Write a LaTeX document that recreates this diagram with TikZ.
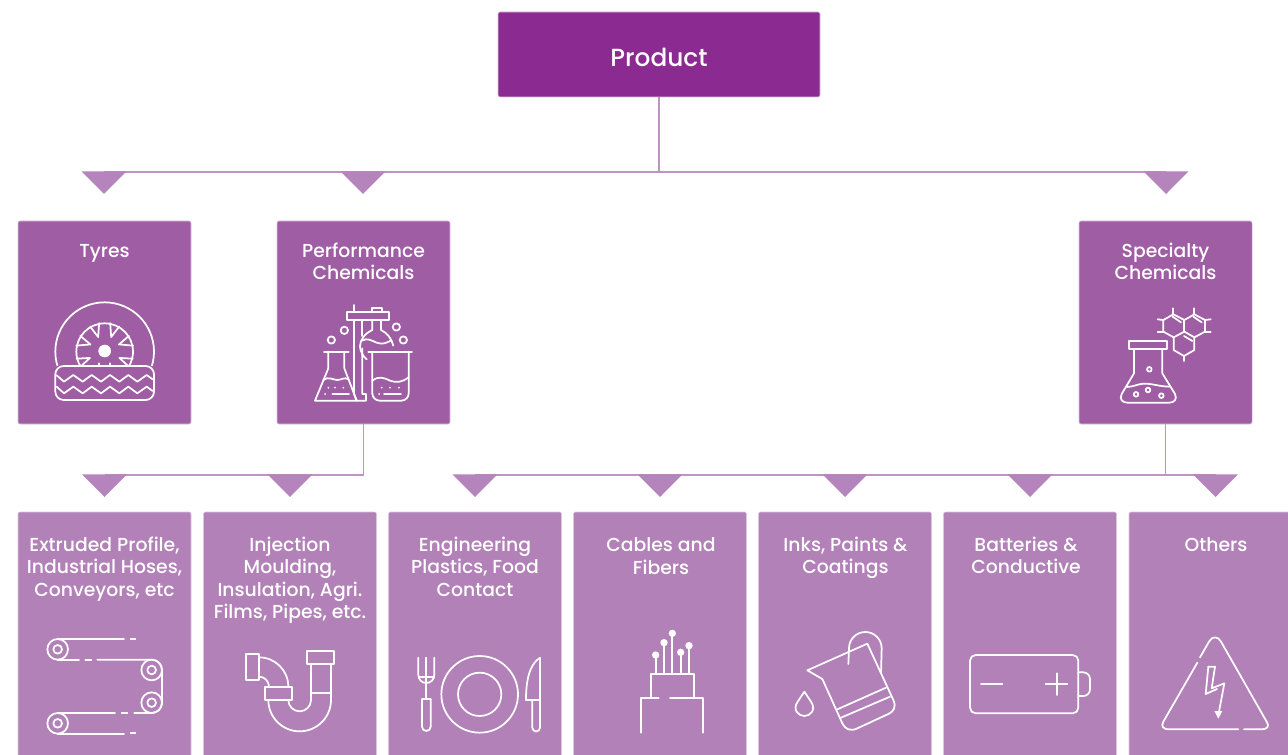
\documentclass[tikz,border=0pt]{standalone}
\usepackage{fontspec}
\setmainfont{Poppins Medium}
\definecolor{cTop}{HTML}{8B2A90}
\definecolor{cMid}{HTML}{9F5DA4}
\definecolor{cLow}{HTML}{B281B8}
\definecolor{cLine}{HTML}{BF94C4}
\definecolor{cTri}{HTML}{B684BC}
\definecolor{cEdge}{HTML}{DCC6DF}
\tikzset{
  boxbase/.style={rectangle,rounded corners=1.5pt,inner sep=0pt,outer sep=0pt,draw=cEdge,line width=0.4pt},
  topbox/.style={boxbase,fill=cTop,minimum width=241.5pt,minimum height=63.75pt,text=white,font=\fontsize{18.6}{22}\selectfont},
  midbox/.style={boxbase,fill=cMid,minimum width=129.75pt,minimum height=152.25pt},
  lowbox/.style={boxbase,fill=cLow,minimum width=129.75pt,minimum height=198pt},
  lbl/.style={text=white,align=center,anchor=north,inner sep=0pt,font=\fontsize{14.1}{16.9}\selectfont},
  conn/.style={draw=cLine,line width=0.9pt},
  tri/.style={fill=cTri,draw=none},
  ico/.style={draw=white,line width=1.3pt,line cap=round,line join=round,fill=none},
  dotf/.style={fill=white,draw=none},
}
\newcommand{\downtri}[1]{\fill[tri] ([xshift=-16.9pt,yshift=0.5pt]#1) -- ([xshift=16.9pt,yshift=0.5pt]#1) -- ([yshift=-16.5pt]#1) -- cycle;}
\begin{document}
\begin{tikzpicture}[x=0.75pt,y=-0.75pt]
\path[use as bounding box] (0,0) rectangle (1288,755);
\clip (0,0) rectangle (1288,755);
\fill[white] (0,0) rectangle (1288,755);

% boxes
\node[topbox] (product) at (659,54.5) {\raisebox{-9.1pt}[0pt][0pt]{Product}};
\node[midbox] (tyres) at (104.5,322.5) {};
\node[midbox] (perf) at (363.5,322.5) {};
\node[midbox] (spec) at (1165.5,322.5) {};
\node[lowbox] (b1) at (104.5,644) {};
\node[lowbox] (b2) at (290,644) {};
\node[lowbox] (b3) at (475,644) {};
\node[lowbox] (b4) at (660,644) {};
\node[lowbox] (b5) at (845,644) {};
\node[lowbox] (b6) at (1030,644) {};
\node[lowbox] (b7) at (1215.5,644) {};

% labels
\node[lbl] (ltyres) at (104.5,244.5) {Tyres};
\node[lbl] (lperf) at (363.5,242.5) {Performance\\Chemicals};
\node[lbl] (lspec) at (1165.5,242.5) {Specialty\\Chemicals};
\node[lbl] (l1) at (104.5,536.5) {Extruded Profile,\\Industrial Hoses,\\Conveyors, etc};
\node[lbl] (l2) at (290,536.5) {Injection\\Moulding,\\Insulation, Agri.\\Films, Pipes, etc.};
\node[lbl] (l3) at (475,536.5) {Engineering\\Plastics, Food\\Contact};
\node[lbl] (l4) at (661,537.5) {Cables and\\Fibers};
\node[lbl] (l5) at (845.5,536.5) {Inks, Paints \&\\Coatings};
\node[lbl] (l6) at (1026,536.5) {Batteries \&\\Conductive};
\node[lbl] (l7) at (1216,537.5) {Others};

% connector coordinates
\coordinate (h1) at (659,172);
\coordinate (t1) at (104,172);
\coordinate (t2) at (363,172);
\coordinate (t3) at (1166,172);
\coordinate (jl) at (363.5,475);
\coordinate (jr) at (1165.5,475);
\coordinate (u1) at (104.5,475);
\coordinate (u2) at (290,475);
\coordinate (u3) at (475,475);
\coordinate (u4) at (660,475);
\coordinate (u5) at (845,475);
\coordinate (u6) at (1030,475);
\coordinate (u7) at (1215.5,475);

\draw[conn] (product.south) -- (h1);
\draw[conn] (t1) -- (t3);
\draw[conn] (perf.south) -- (jl);
\draw[conn] (u1) -- (jl);
\draw[conn] (spec.south) -- (jr);
\draw[conn] (u3) -- (u7);
\downtri{t1}\downtri{t2}\downtri{t3}
\downtri{u1}\downtri{u2}\downtri{u3}\downtri{u4}\downtri{u5}\downtri{u6}\downtri{u7}

% ---------- icons: tyre and flasks (zoom coordinates, 1/3 px)
\begin{scope}[shift={(0,280)},x=0.25pt,y=-0.25pt]
  \begin{scope}
    \clip (100,0) rectangle (520,258);
    \draw[ico] (314,215) circle (148);
    \draw[ico] (314,215) circle (85);
    \foreach \a/\e/\f in {114/101/120,153/147/168,203/194/212}{
      \draw[ico] ({314+29*3*cos(\e)},{215-29*3*sin(\e)}) -- ({314+48*cos(\a)},{215-48*sin(\a)}) -- ({314+29*3*cos(\f)},{215-29*3*sin(\f)});
      \draw[ico] ({314-29*3*cos(\e)},{215-29*3*sin(\e)}) -- ({314-48*cos(\a)},{215-48*sin(\a)}) -- ({314-29*3*cos(\f)},{215-29*3*sin(\f)});
    }
    \draw[ico] (296,250) -- (296,258);
    \draw[ico] (331,250) -- (331,258);
  \end{scope}
  \fill[dotf] (314,213) circle (19);
  \draw[ico] (166,290) -- (166,335) arc[start angle=180,end angle=90,radius=25] -- (437,360) arc[start angle=90,end angle=0,radius=25] -- (462,283) arc[start angle=0,end angle=-90,radius=25] -- (191,258) arc[start angle=-90,end angle=-180,radius=25] -- cycle;
  \draw[ico] (170,286) -- (192,305) -- (220,285) -- (248,305) -- (275,285) -- (303,305) -- (330,285) -- (358,305) -- (385,285) -- (412,305) -- (440,285) -- (458,298);
  \draw[ico] (170,320) -- (192,340) -- (220,320) -- (248,340) -- (275,320) -- (303,340) -- (330,320) -- (358,340) -- (385,320) -- (412,340) -- (440,320) -- (458,333);

  % performance chemicals
  \draw[ico] (1042,97) rectangle (1167,119);
  \draw[ico] (1062,75) -- (1062,97);
  \draw[ico] (1062,119) -- (1062,342) -- (1070,362);
  \draw[ico] (1087,119) -- (1087,168);
  \draw[ico] (1087,205) -- (1087,342) -- (1098,342) -- (1098,362) -- (945,362) -- (985,265) -- (985,215);
  \draw[ico] (1033,215) -- (1033,265) -- (1070,362);
  \draw[ico] (972,215) -- (1046,215);
  \draw[ico] (1117,97) -- (1117,85) -- (1145,85) -- (1145,97);
  \draw[ico] (1117,119) -- (1117,150) .. controls (1095,160) and (1079,180) .. (1080,200) .. controls (1081,215) and (1090,230) .. (1100,238);
  \draw[ico] (1143,119) -- (1143,150) .. controls (1160,158) and (1175,175) .. (1180,197);
  \draw[ico] (1087,182) .. controls (1100,172) and (1115,182) .. (1130,188) .. controls (1148,195) and (1160,188) .. (1172,182);
  \draw[ico] (970,300) .. controls (985,288) and (1000,300) .. (1012,300) .. controls (1025,300) and (1033,290) .. (1046,298);
  \foreach \p in {(985,323),(1005,323),(1030,323),(975,342)} \fill[dotf] \p circle (3);
  \draw[ico] (997,342) -- (1047,342);
  \draw[ico] (1105,215) -- (1236,215);
  \draw[ico] (1117,215) -- (1117,340) arc[start angle=180,end angle=90,radius=22] -- (1204,362) arc[start angle=90,end angle=0,radius=22] -- (1226,215);
  \draw[ico] (1117,302) .. controls (1135,288) and (1150,292) .. (1170,302) .. controls (1190,310) and (1210,305) .. (1226,292);
  \foreach \p in {(1145,323),(1170,323),(1197,323),(1137,342)} \fill[dotf] \p circle (3);
  \draw[ico] (1152,342) -- (1203,342);
  \draw[ico] (994,180) circle (11);
  \draw[ico] (1033,151) circle (11);
  \draw[ico] (1189,141) circle (11);
  \draw[ico] (1210,180) circle (11);
\end{scope}

% specialty chemicals
\begin{scope}[shift={(1080,290)},x=0.25pt,y=-0.25pt]
  \draw[ico] (250,90) -- (280,73) -- (313,90) -- (343,73) -- (375,90) -- (375,125) -- (343,142) -- (313,125) -- (281,142) -- (250,125) -- cycle;
  \draw[ico] (313,90) -- (313,125);
  \draw[ico] (281,142) -- (281,180) -- (312,198) -- (343,180) -- (343,142);
  \draw[ico] (280,73) -- (280,55);
  \draw[ico] (343,73) -- (343,55);
  \draw[ico] (250,90) -- (233,88);
  \draw[ico] (250,125) -- (233,125);
  \draw[ico] (375,90) -- (392,88);
  \draw[ico] (375,125) -- (392,125);
  \draw[ico] (312,198) -- (312,213);
  \draw[ico] (278,80) -- (303,97);
  \draw[ico] (340,80) -- (365,97);
  \draw[ico] (312,138) -- (337,153);
  \draw[ico] (148,152) rectangle (262,178);
  \draw[ico] (162,178) -- (162,250) -- (125,312) .. controls (117,328) and (128,338) .. (142,338) -- (268,338) .. controls (282,338) and (293,328) .. (285,312) -- (247,250) -- (247,178);
  \draw[ico] (142,291) .. controls (160,290) and (175,282) .. (190,281) .. controls (215,280) and (240,290) .. (268,290);
  \draw[ico] (208,238) circle (7);
  \draw[ico] (168,313) circle (7);
  \draw[ico] (204,300) circle (7);
  \draw[ico] (244,317) circle (7);
\end{scope}

% conveyor and pipe
\begin{scope}[shift={(20,620)},x=0.25pt,y=-0.25pt]
  \foreach \p in {(113,88),(395,150),(395,248),(113,310)}{
    \draw[ico] \p circle (31);
    \draw[ico] \p circle (13);
  }
  \draw[ico] (113,57) -- (312,57);
  \draw[ico] (332,58) -- (346,58);
  \draw[ico] (113,119) -- (177,119);
  \draw[ico] (196,119) -- (214,119);
  \draw[ico] (232,119) -- (395,119) arc[start angle=-90,end angle=0,radius=31] -- (426,248) arc[start angle=0,end angle=90,radius=31] -- (343,279);
  \draw[ico] (322,279) -- (305,279);
  \draw[ico] (285,279) -- (113,279);
  \draw[ico] (113,341) -- (312,341);
  \draw[ico] (332,340) -- (346,340);

  \draw[ico] (677,102) rectangle (717,181);
  \draw[ico] (736,200) rectangle (815,240);
  \draw[ico] (862,93) rectangle (942,132);
  \draw[ico] (717,112) arc[start angle=-90,end angle=0,radius=88];
  \draw[ico] (717,170) arc[start angle=-90,end angle=0,radius=30];
  \draw[ico] (745,240) arc[start angle=180,end angle=0,radius=94] -- (933,132);
  \draw[ico] (805,240) arc[start angle=180,end angle=0,radius=34] -- (873,132);
  \draw[ico] (873,218) -- (933,218);
\end{scope}

% cutlery and cables
\begin{scope}[shift={(400,620)},x=0.25pt,y=-0.25pt]
  \draw[ico] (55,113) -- (55,165) arc[start angle=180,end angle=0,radius=24] -- (103,113);
  \draw[ico] (78,113) -- (78,237);
  \draw[ico] (58,172) -- (100,172);
  \draw[ico] (66,237) -- (92,237) -- (92,320) arc[start angle=0,end angle=180,radius=13] -- cycle;
  \draw[ico] (239,223) circle (115);
  \draw[ico] (239,223) circle (65);
  \draw[ico] (420,113) -- (420,240) -- (378,240) .. controls (378,190) and (385,135) .. (420,113);
  \draw[ico] (397,240) -- (397,323) arc[start angle=180,end angle=0,radius=11.5] -- (420,240);

  \foreach \cx/\cy in {767/105,792/68,817/40,842/97,867/77}{
    \fill[dotf] (\cx,\cy) circle (11);
    \draw[ico] (\cx,\cy) -- (\cx,162);
  }
  \draw[ico] (752,235) -- (752,162) -- (883,162) -- (883,235);
  \draw[ico] (776,235) -- (724,235) -- (724,338);
  \draw[ico] (810,235) -- (910,235) -- (910,338);
\end{scope}

% jug, battery and warning sign
\begin{scope}[shift={(780,620)},x=0.25pt,y=-0.25pt]
  \draw[ico] (82,151) -- (262,71) -- (340,240) .. controls (350,262) and (340,275) .. (325,282) -- (232,325) .. controls (212,335) and (195,328) .. (187,310) -- (127,177) -- cycle;
  \draw[ico] (172,268) -- (318,203);
  \draw[ico] (183,293) -- (330,230);
  \draw[ico] (205,132) -- (207,85) arc[start angle=180,end angle=360,radius=49] -- (303,160);
  \draw[ico] (73,215) -- (93,245) .. controls (110,270) and (90,288) .. (73,288) .. controls (56,288) and (36,270) .. (53,245) -- cycle;

  \draw[ico] (570,122) arc[start angle=180,end angle=270,radius=17] -- (878,105) arc[start angle=270,end angle=360,radius=17] -- (895,263) arc[start angle=0,end angle=90,radius=17] -- (587,280) arc[start angle=90,end angle=180,radius=17] -- cycle;
  \draw[ico] (895,157) -- (910,157) arc[start angle=-90,end angle=0,radius=20] -- (930,208) arc[start angle=0,end angle=90,radius=20] -- (895,228);
  \draw[ico] (603,192) -- (667,192);
  \draw[ico] (797,192) -- (862,192);
  \draw[ico] (830,160) -- (830,225);

  \draw[ico] (1260,112) -- (1287,65) .. controls (1295,48) and (1315,48) .. (1323,65) -- (1460,305) .. controls (1470,320) and (1460,328) .. (1445,328) -- (1392,328);
  \draw[ico] (1375,328) -- (1165,328) .. controls (1150,328) and (1142,318) .. (1150,305) -- (1252,128);
  \draw[ico] (1285,140) -- (1305,140) -- (1295,205) -- (1333,190) -- (1317,275);
  \draw[ico] (1285,140) -- (1277,222) -- (1311,207);
  \fill[dotf] (1303,273) -- (1327,273) -- (1315,296) -- cycle;
\end{scope}
\end{tikzpicture}
\end{document}
